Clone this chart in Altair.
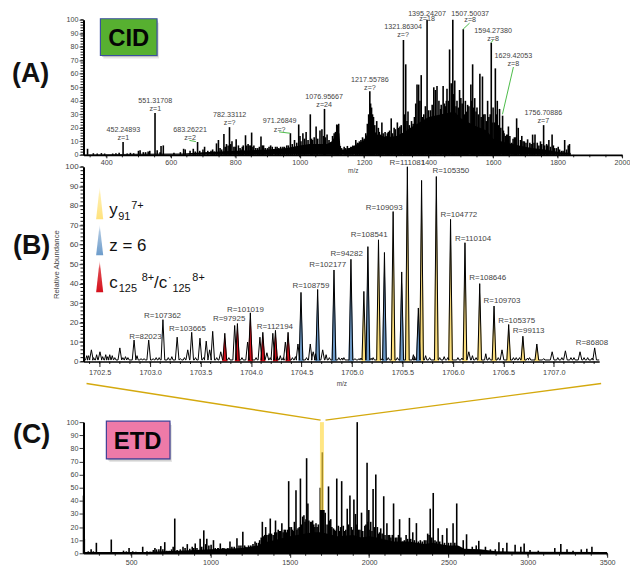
import altair as alt
import pandas as pd

# ---------- Panel A (CID) ----------
A_mz = [342,360,372,385,395,420,430,440,452.2,465,475,485,500,505,515,522,530,535,551.3,558,567,570,577,
 610,630,640,645,660,670,676,683.3,690,705,725,735,742,748,758,765,773,782.3,790,800,803,810,818,825,832,840,847,851,858,870,880,888,900,910,925,935,948,960,
 971.3,984,997,1001,1010,1020,1033,1040,1051,1063,1069,1077,1085,1097,1107,1115,1121,1126,1138,1148,1159,1174,1185,1195,1205,1210,1217.6,1223,1229,1239,1244,1255,1265,1275,1284,1293,1303,1311,
 1321.9,1329,1336,1344,1352,1364,1369,1377,1385,1395.2,1406,1416,1421,1426,1432,1439,1445,1452,1457,1465,1470,1475,1481,1488,1496,1507.5,1514,1521,1531,1536.5,1543,1550,1559,1567,1575,1583,1594.3,1600,1607,1613,1620,1629.4,1634,1642,1647.5,1658,1666,1673,1678,1689,1697,1707,1714,1722.6,1730,1737,1747,1756.7,1766,1773,1783,1791,1802,1812,1822,1833,1837]
A_int = [4.5,1.2,1,1.3,1,1,1.2,1.5,9.5,1,1.5,1.2,3,3.5,2,2,2.5,3,31,3.5,2,6.5,7,
 1.5,2,4.5,4,3,4.5,2.5,9.5,3,6,3,2.5,8.5,11,4,15.5,8,20.5,10,6,11.5,7,4,7,14.5,8,7,16.5,7,5,13.5,7,5,7,6,5,6,7,
 16,11,22.5,14,16,17,30,11,21,18,19,34,15,9,16,22.5,23,6.6,6,6.6,6,11,10,13,16,23,47,35,28,25,20,24,17,17,27,20,24,21,
 85,67,32,20,23,52,52,59,30,100,33,50,48,51,40,37,51,36,49,78,53,100,55,40,48,93,40,37,52,67,42,35,60,58,30,40,83,35,64,40,34,29,16,15,21,9,13,27,20,14,10,11.5,9,15,15,9,10,22,8,11,15,5,6,3,11,7,8]
A_fill_mz = [700,715,730,753,769,778,786,796,815,822,836,843,855,864,875,884,893,905,915,930,941,953,965,977,991,1004,1015,1026,1037,1045,1056,1074,1080,1091,1102,1111,1118,1130,1143,1153,1165,1179,1190,1200,1214,1220,1226,1233,1247,1251,1259,1268,1272,1279,1288,1297,1307,1315,1326,1333,1340,1347,1356,1360,1373,1381,1390,1400,1411,1437,1449,1455,1462,1473,1478,1485,1492,1500,1504,1511,1518,1525,1534,1540,1547,1554,1563,1571,1579,1587,1591,1597,1604,1610,1617,1624,1632,1638,1645,1652,1662,1670,1685,1693,1702,1718,1727,1742,1751,1760,1769,1778,1787,1797,1806,1817,1828]
A_fill_int = [4,3,4,5,6,7,8,6,5,6,7,7,6,5,6,7,5,6,6,6,6,6,7,8,9,10,12,11,12,13,12,14,13,11,14,17,22,5,5,5,7,9,11,12,30,38,30,22,17,15,16,14,16,18,16,19,20,22,30,25,22,25,28,38,40,28,36,33,37,34,38,40,40,52,45,36,35,42,38,30,32,36,40,35,32,30,28,30,25,28,30,24,24,30,22,20,18,14,15,14,12,13,11,10,9,8,9,7,8,7,7,6,7,5,4,3,4]
A_base_mz = [330,500,640,700,800,900,960,1000,1030,1060,1085,1100,1115,1123,1127,1145,1170,1200,1215,1225,1240,1270,1300,1325,1350,1400,1440,1480,1500,1540,1580,1600,1640,1680,1720,1760,1810,1840,1842]
A_base_int = [0.3,0.8,1,2,3,4,5,7,8,8,8,10,16,16,4,4,7,11,18,20,15,13,14,17,21,28,30,32,27,22,18,12,9,7,5,4,2,1.5,0]
A_lab_text = ["452.24893","551.31708","683.26221","782.33112","971.26849","1076.95667","1217.55786","1321.86304","1395.24207","1507.50037","1594.27380","1629.42053","1756.70886"]
A_lab_mz = [453,552,660,783,938,1076,1218,1321,1395,1529,1600,1663,1756]
A_lab_int = [18.4,40,18.6,29.7,24.8,42.9,55.4,94.4,104.4,104.4,92,73.3,31]
A_z_text = ["z=1","z=1","z=2","z=?","z=?","z=24","z=?","z=?","z=18","z=8","z=8","z=8","z=7"]
A_z_int = [12.7,34,12.7,23.5,18.6,36.8,49.5,88.5,100.7,99.5,86,67.3,25]
A_lead_mz = [658,936,1507,1594,1629]
A_lead_mz2 = [678,970,1527,1600,1663]
A_lead_int = [10.7,17,93,83,30]
A_lead_int2 = [9.8,16,97.5,85,65]

# ---------- Panel B (zoom) ----------
Y_mz = [1705.118,1705.263,1705.408,1705.549,1705.69,1705.836,1705.977,1706.12,1706.266,1706.408,1706.553,1706.694,1706.832]
Y_int = [36,62.5,77,100,93,95,73,61,40,28.5,19,13,9]
Z_mz = [1704.495,1704.66,1704.822,1704.99,1705.158,1705.322,1705.493,1705.658]
Z_int = [35.5,37,47,52.5,59,56,46,27.5]
C_mz = [1703.74,1703.865,1703.993,1704.117,1704.242,1704.367]
C_int = [14.5,19.5,25,15,16,15]
O_mz = [1702.372,1702.418,1702.47,1702.503,1702.56,1702.6,1702.625,1702.70,1702.756,1702.841,1702.87,1702.986,1703.06,1703.127,1703.215,1703.268,1703.373,1703.412,1703.494,1703.556,1703.59,1703.62,1703.70,1703.838,1703.966,1704.088,1704.157,1704.216,1704.29,1704.34,1704.41,1704.465,1704.587,1704.616,1704.71,1704.744,1704.776,1704.87,1704.92,1705.03,1705.21,1705.36,1705.609,1705.73,1705.914,1706.05,1706.158,1706.194,1706.326,1706.487,1706.628,1706.76,1706.984,1707.04,1707.115,1707.17,1707.26,1707.336,1707.405]
O_int = [3,6,3.5,5,3.5,3.5,3,7,2.5,11,3,11,2,21.5,2.5,12.5,6,15,12,10.5,6,15.5,5,18.5,10,12.5,4.5,14.5,3,10,2,9,9,5,6,3.5,2,2,2,1.5,2,2,3.5,3,2.5,2,5,3,4,6,2,2,5,2,5.5,2,5,2,7]
N_mz = [1702.39,1702.44,1702.53,1702.58,1702.65,1702.73,1702.78,1702.91,1702.94,1703.03,1703.09,1703.18,1703.3,1703.34,1703.45,1703.53,1703.66,1703.78,1703.91,1704.05,1704.19,1704.26,1704.32,1704.44,1704.55,1704.64,1704.90,1705.07,1705.09,1705.19,1705.30,1705.45,1705.62,1705.77,1705.87,1705.95,1706.09,1706.23,1706.36,1706.45,1706.6,1706.66,1706.74,1706.9,1707.08,1707.2,1707.3,1707.38]
N_int = [3,2,2.5,2.5,2,2,2,1.5,1.5,1.5,2,2,1.5,2,2,2,2,2,2,2,2,2.5,2,2.5,2,4,1.8,1.5,1.8,1.7,1.5,2,2.5,2,2,2,1.8,2,2,2,2,2,1.8,1.5,2,2,2,1.8]
R_text = ["R=82023","R=107362","R=103665","R=97925","R=101019","R=112194","R=108759","R=102177","R=94282","R=108541","R=109093","R=111081","R=105350","R=104772","R=110104","R=108646","R=109703","R=105375","R=99113","R=86808"]
R_mz = [1702.953,1703.123,1703.37,1703.783,1703.944,1704.236,1704.593,1704.76,1704.947,1705.171,1705.319,1705.549,1705.98,1706.059,1706.2,1706.345,1706.487,1706.632,1706.75,1707.378]
R_int = [12.7,23.6,16.8,21.6,26.7,17.8,39,49.6,55,65,79,101.7,98,75,63,42.8,31,21,15.5,9.3]
KEY_mz = [1702.465,1702.5,1702.535]
KEY_yellow = [73,90,73]
KEY_blue = [54.6,70.5,54.6]
KEY_red = [35.6,52,35.6]

# ---------- Panel C (ETD) ----------
E_mz = [200,205,248,281,331,375,452,487,573,650,687,712,765,775,827,854,885,904,935,958,977,1004,1019,1046,1062,1098,1123,1167,1204,1223,1254,1281,1304,1327,1348,1364,1377,1410,1427,1450,1473,1493,1510,1529,1539,1567,1581,1589,1606,1614,1631,1644,1665,1692,1698,1705,1710,1723,1744,1758,1775,1796,1806,1827,1837,1862,1879,1904,1914,1925,1942,1952,1973,1987,1998,2010,2025,2042,2052,2073,2092,2112,2129,2154,2192,2212,2233,2254,2275,2298,2323,2348,2369,2385,2404,2435,2462,2490,2529,2552,2593,2614,2650,2675,2691,2733,2764,2795,2818,2843,2868,2920,2956,2977,3014,3066,3170,3208,3247,3285,3337,3372,3404]
E_int = [44,11,3,8,1,10.5,2,4,5,4,5.5,8.5,5,26.5,5,7,5,7.5,11,17.5,11,6.5,10,4,7.5,3.5,9,11.5,16.5,5,6,9,8,24,20,14,26.5,25,18,23,18,55,20,24,48,57,28,29,72.5,38,24,25,23,50,33,77,33,31,51,26,19,57,21,55,21,34,44,41,30,100,18,31,21,69,33,24,49,60,20,19,43.5,23,14,38,26,9,14,27,16,23,10,10,15,34,46,19,14,19,23,38,10,14.5,5,6,9.5,5,3,3,8.5,4,8,6.5,5,7.5,2.5,2,4,7,3,2,3,3.5,5]
E_fill_mz = [215,230,262,300,350,400,420,470,510,530,600,620,640,660,675,700,725,740,755,790,810,840,870,895,915,945,970,990,1030,1050,1075,1085,1110,1135,1150,1180,1192,1215,1240,1268,1290,1310,1320,1335,1342,1355,1370,1385,1395,1405,1418,1435,1442,1458,1465,1480,1487,1500,1517,1523,1545,1552,1560,1574,1596,1602,1620,1637,1651,1658,1672,1680,1700,1715,1735,1750,1765,1783,1790,1812,1820,1845,1853,1870,1888,1895,1918,1933,1960,1980,1992,2005,2018,2033,2060,2066,2082,2100,2120,2137,2146,2165,2175,2185,2200,2222,2243,2262,2285,2310,2335,2358,2378,2395,2415,2425,2445,2475,2500,2515,2540,2570]
E_fill_int = [1,1.5,1.5,1,1,1,1,1.5,1.5,1.2,1.5,1.2,2.5,3,3,3,2,2,3,2.5,3,4,3.5,4,4,5,7,6,4,4,4,4,4,5,5,6,6,6,6,7,8,10,12,13,14,14,15,15,14,16,16,17,17,16,18,16,18,20,18,17,18,19,20,22,24,26,25,24,22,20,20,22,33,33,22,25,20,18,17,17,20,17,18,22,20,18,22,18,17,22,24,18,17,20,15,16,15,14,14,12,14,12,12,14,12,10,11,11,10,9,9,10,14,12,10,9,9,8,8,8,8,5]
E_base_mz = [200,600,700,800,900,1000,1100,1200,1300,1330,1400,1500,1600,1650,1700,1800,1900,1950,2000,2050,2150,2250,2350,2400,2500,2560,2600,2700,2800,3000,3500]
E_base_int = [1,1,1.5,2,2.5,3,3.5,4,6,8,10,13,15,16,16,13,14,12,13,12,9,9,7,8,6,6,3.5,3,1.5,1.2,1]

TXT = "#444444"
FONT = "Liberation Sans"

def table(**cols):
    return pd.DataFrame(cols)

ONE = table(a=[0])

def note(text, x0, y0, px, py, size, weight="normal", color="#111111", align="left"):
    return alt.Chart(ONE).mark_text(text=text, fontSize=size, fontWeight=weight, color=color,
                                    align=align, baseline="alphabetic", font=FONT).encode(
        x=alt.value(px - x0), y=alt.value(py - y0))

def box(x0, y0, l, t, r, b, fill, stroke=None, opacity=1.0):
    kw = dict(stroke=stroke, strokeWidth=1.2) if stroke else {}
    return alt.Chart(ONE).mark_rect(color=fill, opacity=opacity, **kw).encode(
        x=alt.value(l - x0), x2=alt.value(r - x0), y=alt.value(t - y0), y2=alt.value(b - y0))

def xaxis(values, title=None, fmt="d", size=7.2, tick=3, pad=1, tpad=2):
    return alt.Axis(values=values, title=title, format=fmt, grid=False, tickSize=tick, tickColor="#222222", tickWidth=1,
                    domainColor="#000000", domainWidth=1.6, labelColor=TXT, labelFontSize=size, labelFont=FONT,
                    labelPadding=pad, titleFont=FONT, titleFontSize=6.5, titleFontWeight="normal", titleColor=TXT,
                    titlePadding=tpad, labelFlush=False, labelOverlap=False, zindex=1)

def yaxis(title=None, size=7.2):
    return alt.Axis(values=list(range(0, 101, 10)), title=title, grid=False, tickSize=4.5, tickColor="#333333", tickWidth=1,
                    domainColor="#000000", domainWidth=2, labelColor=TXT, labelFontSize=size, labelFont=FONT,
                    labelPadding=1, titleFont=FONT, titleFontSize=7.8, titleFontWeight="normal", titleColor=TXT,
                    titlePadding=4, labelOverlap=False, labelFlush=False, zindex=1)

class Panel:
    """Bundles a panel's two shared scales and axes so every layer agrees."""
    def __init__(self, xs, ys, xa, ya, w, h):
        self.xs, self.ys, self.xa, self.ya, self.w, self.h = xs, ys, xa, ya, w, h
    def X(self, f):
        return alt.X(f, scale=self.xs, axis=self.xa)
    def Y(self, f):
        return alt.Y(f, scale=self.ys, axis=self.ya)
    def area(self, mz, v, **kw):
        return alt.Chart(table(mz=mz, v=v)).mark_area(color="#000000", **kw).encode(x=self.X("mz:Q"), y=self.Y("v:Q"))
    def spikes(self, mz, v, width=1.6):
        return alt.Chart(table(mz=mz, v=v, zero=[0] * len(mz))).mark_rule(color="#000000", strokeWidth=width).encode(
            x=self.X("mz:Q"), y=self.Y("v:Q"), y2="zero:Q")
    def comb_y(self, values, size=3):
        return alt.Chart(table(v=values)).mark_rule(color="#111111", strokeWidth=1).encode(
            y=self.Y("v:Q"), x=alt.value(-size), x2=alt.value(0))
    def comb_x(self, values, size=2.5):
        return alt.Chart(table(v=values)).mark_rule(color="#111111", strokeWidth=0.9).encode(
            x=self.X("v:Q"), y=alt.value(self.h), y2=alt.value(self.h + size))
    def labels(self, mz, v, t, size):
        return alt.Chart(table(mz=mz, v=v, t=t)).mark_text(fontSize=size, color=TXT, font=FONT).encode(
            x=self.X("mz:Q"), y=self.Y("v:Q"), text="t:N")
    def segs(self, a, b, c, d, color, width, **kw):
        return alt.Chart(table(a=a, b=b, c=c, d=d)).mark_rule(color=color, strokeWidth=width, **kw).encode(
            x=self.X("a:Q"), x2="b:Q", y=self.Y("c:Q"), y2="d:Q")

# ---------- build A ----------
AX0, AY0 = 84, 18
PA = Panel(alt.Scale(domain=[329.5, 2000], nice=False, zero=False), alt.Scale(domain=[0, 100], nice=False),
           xaxis(list(range(400, 2001, 200)), "m/z"), yaxis(), 542, 136)
A = alt.layer(
    PA.area(A_base_mz, A_base_int),
    PA.spikes(A_mz, A_int),
    PA.spikes(A_fill_mz, A_fill_int),
    PA.comb_y(list(range(0, 101, 2))),
    PA.comb_x(list(range(350, 2001, 50))),
    PA.segs(A_lead_mz, A_lead_mz2, A_lead_int, A_lead_int2, "#4DBB4A", 1),
    PA.labels(A_lab_mz, A_lab_int, A_lab_text, 7.2),
    PA.labels(A_lab_mz, A_z_int, A_z_text, 7.2),
    box(AX0, AY0, 104, 21, 160, 57, "#999999", opacity=0.25),
    box(AX0, AY0, 102.5, 19, 159, 55.5, "#777777", opacity=0.35),
    box(AX0, AY0, 101, 17, 158, 54, "#57B030", stroke="#3B4F9F"),
    note("CID", AX0, AY0, 129.5, 44.5, 24, "bold", "#050505", "center"),
    note("(A)", AX0, AY0, 12, 81, 27, "bold", "#111111"),
).properties(width=PA.w, height=PA.h)

# ---------- build B ----------
BX0, BY0 = 83, 166
PB = Panel(alt.Scale(domain=[1702.34, 1707.45], nice=False, zero=False), alt.Scale(domain=[0, 100], nice=False),
           xaxis([1702.5 + 0.5 * k for k in range(10)], "m/z", ".1f", 7.4, 5, 2, 5), yaxis("Relative Abundance", 8), 519, 196)

def grad(stops):
    return alt.Gradient(gradient="linear", x1=0, x2=0, y1=1, y2=0,
                        stops=[alt.GradientStop(offset=o, color=c) for o, c in stops])

def triangles(mzs, ints, stops, half=0.026):
    xs, vs, ids = [], [], []
    for i, (m, h) in enumerate(zip(mzs, ints)):
        xs += [m - half, m, m + half]
        vs += [0, h, 0]
        ids += [i, i, i]
    return alt.Chart(table(mz=xs, v=vs, i=ids)).mark_area(color=grad(stops)).encode(
        x=PB.X("mz:Q"), y=PB.Y("v:Q"), detail="i:N")

def key(values, stops):
    return alt.Chart(table(mz=KEY_mz, v=values, b=[values[0]] * len(values))).mark_area(color=grad(stops)).encode(
        x=PB.X("mz:Q"), y=PB.Y("v:Q"), y2="b:Q")

pk_mz = Y_mz + Z_mz + C_mz + O_mz + N_mz
pk_int = Y_int + Z_int + C_int + O_int + N_int
order = sorted(range(len(pk_mz)), key=lambda i: pk_mz[i])
ln_x, ln_y = [1702.34], [0.8]
for i in order:
    w = 0.018 if pk_int[i] > 4 else 0.012
    ln_x += [pk_mz[i] - w, pk_mz[i], pk_mz[i] + w]
    ln_y += [0.8, pk_int[i], 0.8]
ln_x.append(1707.45)
ln_y.append(0.8)
ln_order = list(range(len(ln_x)))

YEL = [(0, "#FFE27C"), (0.45, "#EDD075"), (0.8, "#77693C"), (1, "#111111")]
BLU = [(0, "#6D9CCB"), (0.45, "#6690BC"), (0.8, "#44566E"), (1, "#111111")]
RED = [(0, "#D5101C"), (0.65, "#CC101A"), (1, "#400808")]

B = alt.layer(
    triangles(Y_mz, Y_int, YEL),
    triangles(Z_mz, Z_int, BLU),
    triangles(C_mz, C_int, RED),
    alt.Chart(table(mz=ln_x, v=ln_y, o=ln_order)).mark_line(color="#000000", strokeWidth=1).encode(
        x=PB.X("mz:Q"), y=PB.Y("v:Q"), order="o:Q"),
    PB.comb_y(list(range(0, 101, 2))),
    PB.comb_x([1702.4 + 0.1 * k for k in range(51)]),
    PB.labels(R_mz, R_int, R_text, 8),
    key(KEY_yellow, [(0, "#FFE27C"), (0.75, "#FFEFB0"), (1, "#FFFFFF")]),
    key(KEY_blue, [(0, "#6D9CCB"), (0.75, "#A9C4DF"), (1, "#FFFFFF")]),
    key(KEY_red, [(0, "#D5101C"), (0.75, "#E04A50"), (1, "#FFFFFF")]),
    note("y", BX0, BY0, 109, 215, 17),
    note("91", BX0, BY0, 118, 219.5, 11),
    note("7+", BX0, BY0, 131, 208, 11),
    note("z = 6", BX0, BY0, 109, 250.7, 17),
    note("c", BX0, BY0, 109, 287.7, 17),
    note("125", BX0, BY0, 118.5, 292, 11),
    note("8+", BX0, BY0, 141.5, 280.5, 11),
    note("/c", BX0, BY0, 154, 287.7, 17),
    note("·", BX0, BY0, 168, 281, 11),
    note("125", BX0, BY0, 172.5, 292, 11),
    note("8+", BX0, BY0, 192.5, 280.5, 11),
    note("(B)", BX0, BY0, 12, 254, 27, "bold", "#111111"),
).properties(width=PB.w, height=PB.h)

# ---------- build C ----------
CX0, CY0 = 83, 374
PC = Panel(alt.Scale(domain=[200, 3500], nice=False, zero=False), alt.Scale(domain=[0, 100], range=[181, 49], nice=False),
           xaxis(list(range(500, 3501, 500)), None, "d", 7.2, 4, 1.5), yaxis(), 527, 181)
C = alt.layer(
    PC.area(E_base_mz, E_base_int),
    PC.spikes(E_mz, E_int),
    PC.spikes(E_fill_mz, E_fill_int),
    alt.Chart(table(a=[1690], b=[1715], c=[33], d=[100])).mark_rect(color="#FFD940", opacity=0.65).encode(
        x=PC.X("a:Q"), x2="b:Q", y=PC.Y("c:Q"), y2="d:Q"),
    PC.comb_x(list(range(300, 3501, 100))),
    PC.segs([219, 3462], [1694, 1725], [129.5, 129.5], [101.5, 101.5], "#D4A90E", 1.4),
    box(CX0, CY0, 109, 426, 172, 463, "#999999", opacity=0.25),
    box(CX0, CY0, 107.5, 424, 171, 461.5, "#777777", opacity=0.35),
    box(CX0, CY0, 106, 422, 170, 460, "#EE7AA8", stroke="#3F3F96"),
    note("ETD", CX0, CY0, 137.5, 450.5, 24, "bold", "#050505", "center"),
    note("(C)", CX0, CY0, 12, 444, 27, "bold", "#111111"),
).properties(width=PC.w, height=PC.h)

chart = alt.vconcat(A, B, C, spacing=12, bounds="flush").properties(
    padding={"left": 4, "top": 0, "right": 0, "bottom": 0}
).configure_view(stroke=None)

chart.save("out.html", embed_options={"renderer": "svg", "actions": False})
